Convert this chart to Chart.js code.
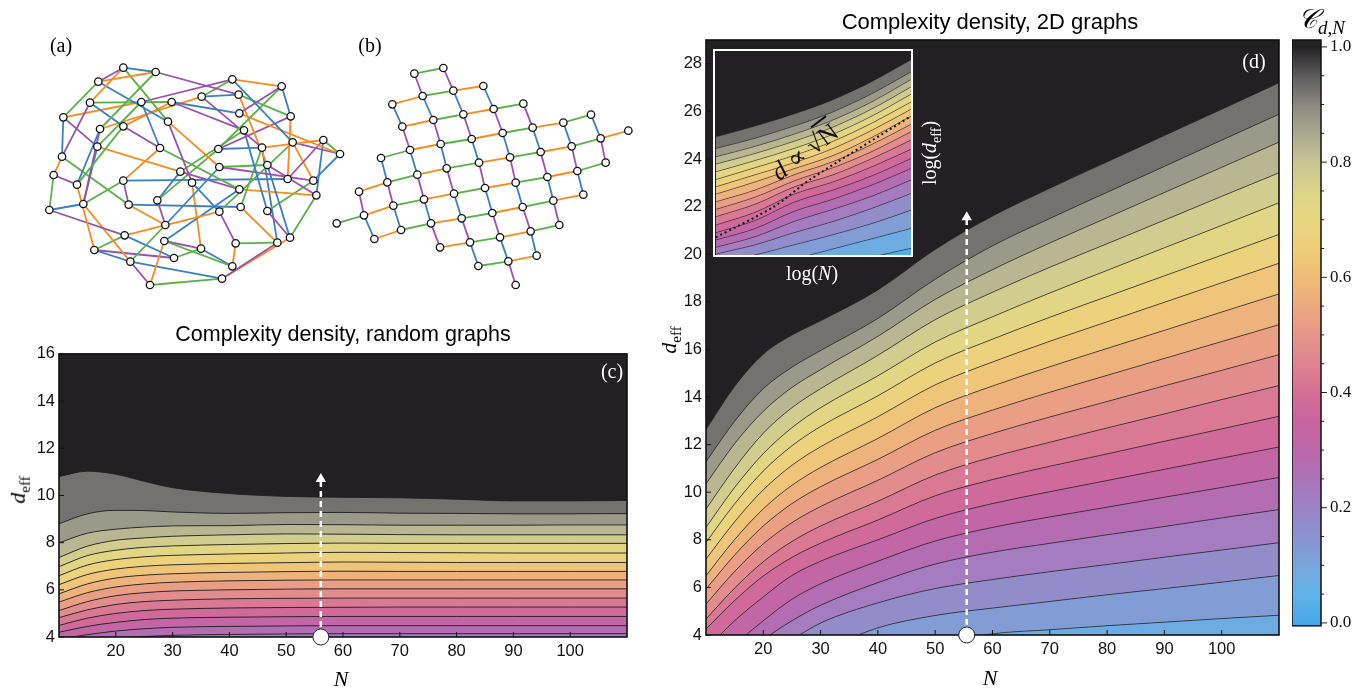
<!DOCTYPE html>
<html>
<head>
<meta charset="utf-8">
<script src="https://cdn.jsdelivr.net/npm/chart.js@4.4.1/dist/chart.umd.min.js"></script>
<style>
  body { margin: 0; width: 1370px; height: 690px; background: #fff; position: relative; overflow: hidden; }
  canvas { position: absolute; }
  .txt { position: absolute; white-space: nowrap; line-height: 1; }
  .sans { font-family: "Liberation Sans", Arial, sans-serif; }
  .serif { font-family: "Liberation Serif", "DejaVu Serif", serif; }
  .c { transform: translate(-50%, -50%); }
  .rot { transform: translate(-50%, -50%) rotate(-90deg); }
  #insetFrame { position: absolute; left: 713px; top: 49px; width: 196px; height: 204px; border: 2.5px solid #fff; }
</style>
</head>
<body>

<canvas id="netA" width="350" height="270" style="left:0;top:30px"></canvas>
<canvas id="netB" width="320" height="270" style="left:330px;top:30px"></canvas>
<canvas id="randChart" width="640" height="330" style="left:0;top:340px"></canvas>
<canvas id="latChart" width="640" height="650" style="left:650px;top:20px"></canvas>
<canvas id="insetChart" width="195" height="203" style="left:716px;top:52px"></canvas>
<div id="insetFrame"></div>
<canvas id="cbar" width="78" height="625" style="left:1292px;top:20px"></canvas>

<div class="txt serif c" style="left:61px;top:45px;font-size:20px">(a)</div>
<div class="txt serif c" style="left:370px;top:45px;font-size:20px">(b)</div>
<div class="txt sans c" style="left:343px;top:335px;font-size:21.5px">Complexity density, random graphs</div>
<div class="txt sans c" style="left:990px;top:22px;font-size:22px">Complexity density, 2D graphs</div>
<div class="txt serif c" style="left:612px;top:371px;font-size:20px;color:#fff">(c)</div>
<div class="txt serif c" style="left:1254px;top:61px;font-size:20px;color:#fff">(d)</div>
<div class="txt serif rot" style="left:20px;top:490px;font-size:22px"><i>d</i><sub style="font-size:15px">eff</sub></div>
<div class="txt serif c" style="left:341px;top:679px;font-size:22px"><i>N</i></div>
<div class="txt serif rot" style="left:671px;top:340px;font-size:22px"><i>d</i><sub style="font-size:15px">eff</sub></div>
<div class="txt serif c" style="left:990px;top:678px;font-size:22px"><i>N</i></div>
<div class="txt serif" style="left:1298px;top:6px;font-size:27px"><i>𝒞</i><sub style="font-size:19px"><i>d</i>,<i>N</i></sub></div>
<div class="txt serif c" style="left:812px;top:273px;font-size:20px;color:#fff">log(<i>N</i>)</div>
<div class="txt serif rot" style="left:931px;top:153px;font-size:20px;color:#fff">log(<i>d</i><sub style="font-size:14px">eff</sub>)</div>
<div class="txt serif" style="left:805px;top:152px;font-size:26px;color:#111;transform:translate(-50%,-50%) rotate(-37deg)"><i>d</i> ∝ √<span style="text-decoration:overline">N</span></div>

<script>
// ---------- data ----------
// panel (a): random graph, node layout and coloured edges (1-based node indices)
const nodesA = [
  [370,113],[467,126],[295,155],[697,148],[845,169],[270,218],[424,216],[515,216],[605,200],[716,194],
  [190,262],[718,250],[872,259],[504,275],[370,289],[300,297],[732,301],[970,330],[878,337],[1020,372],
  [292,350],[480,354],[655,357],[786,353],[186,380],[658,411],[802,405],[541,425],[161,435],[231,464],
  [370,452],[576,458],[863,447],[940,452],[718,478],[949,496],[148,540],[250,522],[386,524],[472,511],
  [658,545],[722,531],[802,543],[496,585],[374,616],[493,633],[870,623],[832,638],[707,640],[603,656],
  [283,660],[522,684],[391,695],[697,709],[666,746],[450,765]
];
const edgesA = [
  [1,2,'B'],[2,3,'O'],[1,3,'P'],[1,6,'O'],[1,14,'G'],[2,16,'G'],[2,10,'P'],[3,11,'G'],[3,14,'B'],
  [4,5,'O'],[4,9,'G'],[4,7,'P'],[4,19,'B'],[5,13,'B'],[5,12,'P'],[5,23,'G'],
  [6,8,'G'],[6,15,'B'],[6,25,'P'],[7,22,'B'],[7,11,'O'],[7,21,'G'],
  [8,12,'B'],[8,17,'P'],[8,15,'O'],[9,10,'B'],[9,16,'O'],[9,24,'P'],
  [10,13,'G'],[10,27,'O'],[11,25,'B'],[11,21,'P'],[12,20,'O'],[13,23,'P'],[13,33,'O'],
  [14,26,'O'],[14,32,'P'],[15,22,'P'],[15,30,'G'],[16,38,'P'],[16,30,'B'],
  [17,43,'B'],[17,28,'G'],[18,24,'O'],[18,20,'G'],[18,36,'B'],[18,33,'P'],
  [19,20,'P'],[19,34,'O'],[19,41,'G'],[20,34,'B'],[21,28,'O'],[21,38,'B'],
  [22,31,'O'],[22,35,'G'],[23,24,'B'],[24,42,'G'],[25,39,'G'],[25,29,'O'],[29,37,'G'],[29,30,'P'],
  [26,27,'G'],[26,34,'P'],[26,44,'B'],[27,47,'B'],[27,36,'P'],[36,47,'G'],[35,36,'O'],
  [31,33,'B'],[28,35,'P'],[30,51,'O'],[31,39,'P'],[31,38,'G'],
  [37,38,'B'],[37,45,'P'],[38,53,'O'],[39,42,'B'],[39,44,'O'],[40,44,'P'],[40,23,'G'],[40,28,'B'],
  [41,45,'O'],[41,49,'P'],[41,32,'B'],[42,48,'O'],[43,34,'G'],[43,47,'P'],[44,53,'G'],[45,52,'B'],[45,51,'G'],
  [46,56,'O'],[46,54,'G'],[46,35,'B'],[46,50,'P'],[48,49,'G'],[48,55,'P'],[48,24,'B'],[49,54,'O'],
  [50,52,'G'],[50,54,'B'],[50,32,'O'],[51,53,'B'],[51,52,'P'],[53,56,'P'],[53,55,'B'],[55,56,'G'],[55,47,'O']
];

// panel (b): square-lattice graph, [i, j, x, y] (lattice index, layout position)
const latticeB = [
  [0,0,253,131],[1,0,340,114],
  [-1,1,187,223],[0,1,278,198],[1,1,370,182],[2,1,460,168],
  [-1,2,217,290],[0,2,310,270],[1,2,400,253],[2,2,491,237],[3,2,580,221],
  [-2,3,153,384],[-1,3,240,360],[0,3,332,342],[1,3,425,327],[2,3,518,309],[3,3,608,293],[4,3,700,278],[5,3,783,254],
  [-3,4,87,485],[-2,4,172,457],[-1,4,262,434],[0,4,350,415],[1,4,447,398],[2,4,540,382],[3,4,632,366],[4,4,725,349],[5,4,812,325],[6,4,895,302],
  [-4,5,20,580],[-3,5,102,556],[-2,5,190,527],[-1,5,282,508],[0,5,372,491],[1,5,465,474],[2,5,557,458],[3,5,652,441],[4,5,742,423],[5,5,827,398],
  [-3,6,133,627],[-2,6,213,600],[-1,6,303,580],[0,6,395,565],[1,6,487,549],[2,6,578,531],[3,6,670,512],[4,6,760,494],
  [-1,7,330,652],[0,7,420,637],[1,7,510,622],[2,7,602,604],[3,7,688,585],
  [0,8,445,708],[1,8,535,694],[2,8,620,677],
  [1,9,557,765]
];

// contour plots: N sample points, contour levels and d_eff of each contour line
const nGrid = [10, 15, 20, 25, 30, 40, 50, 60, 70, 80, 90, 100, 110];
const nTicks = [20, 30, 40, 50, 60, 70, 80, 90, 100];

// panel (c): random graphs
const randLevels = [0.95, 0.90, 0.85, 0.80, 0.75, 0.70, 0.65, 0.60, 0.55, 0.50, 0.45, 0.40, 0.35, 0.30, 0.25];
const randLines = [
  [10.80, 11.03, 10.90, 10.60, 10.33, 10.08, 9.96, 9.92, 9.90, 9.84, 9.77, 9.77, 9.79],
  [8.80, 9.22, 9.37, 9.36, 9.30, 9.24, 9.27, 9.28, 9.25, 9.24, 9.22, 9.22, 9.23],
  [7.99, 8.40, 8.57, 8.66, 8.71, 8.72, 8.77, 8.76, 8.74, 8.74, 8.74, 8.75, 8.75],
  [7.37, 7.85, 8.10, 8.20, 8.27, 8.33, 8.37, 8.36, 8.34, 8.33, 8.33, 8.33, 8.33],
  [6.98, 7.45, 7.68, 7.80, 7.86, 7.92, 7.96, 7.98, 7.97, 7.97, 7.97, 7.97, 7.97],
  [6.60, 7.05, 7.28, 7.40, 7.46, 7.52, 7.56, 7.59, 7.58, 7.57, 7.56, 7.56, 7.56],
  [6.22, 6.65, 6.88, 7.00, 7.06, 7.12, 7.15, 7.18, 7.17, 7.16, 7.16, 7.16, 7.16],
  [5.83, 6.25, 6.50, 6.62, 6.68, 6.74, 6.77, 6.79, 6.78, 6.78, 6.78, 6.78, 6.78],
  [5.48, 5.88, 6.12, 6.25, 6.32, 6.38, 6.41, 6.42, 6.42, 6.42, 6.42, 6.42, 6.42],
  [5.12, 5.50, 5.75, 5.88, 5.95, 6.00, 6.03, 6.04, 6.04, 6.04, 6.04, 6.04, 6.04],
  [4.82, 5.15, 5.38, 5.50, 5.56, 5.62, 5.64, 5.65, 5.65, 5.65, 5.65, 5.65, 5.65],
  [4.49, 4.80, 5.00, 5.12, 5.18, 5.23, 5.25, 5.26, 5.27, 5.27, 5.27, 5.27, 5.27],
  [4.20, 4.45, 4.62, 4.74, 4.80, 4.84, 4.86, 4.87, 4.87, 4.87, 4.87, 4.87, 4.87],
  [3.92, 4.10, 4.25, 4.35, 4.41, 4.45, 4.47, 4.48, 4.48, 4.48, 4.48, 4.48, 4.48],
  [3.60, 3.80, 3.94, 4.02, 4.07, 4.11, 4.13, 4.14, 4.14, 4.14, 4.14, 4.14, 4.14]
];
const randTicksY = [4, 6, 8, 10, 12, 14, 16];

// panel (d): 2D graphs
const latLevels = [0.95, 0.90, 0.85, 0.80, 0.75, 0.70, 0.65, 0.60, 0.55, 0.50, 0.45, 0.40, 0.35, 0.30, 0.25, 0.20, 0.15, 0.10];
const latLines = [
  [12.63, 14.45, 15.80, 16.60, 17.20, 18.50, 20.20, 21.60, 22.77, 23.88, 24.99, 26.09, 27.20],
  [11.28, 12.98, 14.35, 15.25, 15.95, 17.30, 18.95, 20.35, 21.50, 22.60, 23.69, 24.79, 25.88],
  [10.35, 12.04, 13.40, 14.40, 15.15, 16.55, 18.10, 19.35, 20.47, 21.53, 22.59, 23.65, 24.71],
  [9.29, 11.01, 12.48, 13.55, 14.35, 15.75, 17.25, 18.40, 19.45, 20.44, 21.43, 22.43, 23.42],
  [8.52, 10.20, 11.62, 12.71, 13.55, 14.89, 16.31, 17.37, 18.37, 19.32, 20.27, 21.21, 22.16],
  [7.89, 9.51, 10.89, 11.95, 12.76, 14.05, 15.43, 16.43, 17.35, 18.22, 19.09, 19.96, 20.83],
  [7.19, 8.76, 10.10, 11.13, 11.91, 13.17, 14.51, 15.47, 16.34, 17.16, 17.98, 18.80, 19.62],
  [6.49, 8.01, 9.30, 10.29, 11.04, 12.26, 13.55, 14.46, 15.27, 16.04, 16.80, 17.57, 18.33],
  [5.93, 7.36, 8.58, 9.52, 10.23, 11.38, 12.60, 13.45, 14.20, 14.91, 15.62, 16.33, 17.04],
  [5.30, 6.67, 7.83, 8.72, 9.40, 10.50, 11.66, 12.47, 13.16, 13.81, 14.47, 15.12, 15.78],
  [4.67, 5.97, 7.08, 7.93, 8.58, 9.62, 10.72, 11.48, 12.10, 12.70, 13.29, 13.89, 14.48],
  [4.25, 5.45, 6.48, 7.26, 7.86, 8.83, 9.85, 10.53, 11.09, 11.61, 12.14, 12.66, 13.19],
  [3.40, 4.60, 5.60, 6.50, 7.10, 8.00, 8.90, 9.52, 10.02, 10.49, 10.96, 11.43, 11.90],
  [2.60, 3.60, 4.60, 5.50, 6.15, 7.10, 7.95, 8.52, 8.96, 9.37, 9.79, 10.20, 10.62],
  [1.80, 2.80, 3.80, 4.60, 5.25, 6.20, 6.98, 7.48, 7.85, 8.21, 8.56, 8.92, 9.27],
  [1.00, 2.00, 3.00, 3.80, 4.50, 5.35, 5.95, 6.33, 6.66, 6.96, 7.27, 7.57, 7.88],
  [0.50, 1.30, 2.00, 2.70, 3.30, 4.30, 4.82, 5.13, 5.41, 5.69, 5.95, 6.22, 6.50],
  [-0.50, 0.20, 0.90, 1.50, 2.00, 3.00, 3.60, 4.05, 4.22, 4.39, 4.54, 4.69, 4.83]
];
const latTicksY = [4, 6, 8, 10, 12, 14, 16, 18, 20, 22, 24, 26, 28];

// inset of (d): log-log view, x and y in relative units (0..100)
const insetX = [0, 20, 40, 60, 80, 100];
const insetLevels = [0.95, 0.90, 0.85, 0.80, 0.75, 0.70, 0.65, 0.60, 0.55, 0.50, 0.45, 0.40, 0.35, 0.30, 0.25, 0.20, 0.15, 0.10, 0.05];
const insetLines = [
  [58.2, 63.5, 69.5, 76.5, 85.5, 96.2],
  [52.5, 57.5, 63.5, 70.5, 79.5, 90.2],
  [48.4, 53.5, 59.5, 66.5, 75.5, 86.4],
  [44.8, 50.0, 56.0, 63.0, 72.0, 82.8],
  [41.0, 46.5, 52.5, 59.5, 68.5, 79.2],
  [37.2, 43.0, 49.0, 56.0, 65.0, 75.4],
  [33.6, 39.5, 45.5, 52.5, 61.5, 71.8],
  [30.0, 36.0, 42.5, 49.0, 58.0, 68.4],
  [26.2, 32.0, 39.5, 46.0, 54.5, 64.4],
  [22.5, 28.5, 36.5, 43.0, 51.0, 60.7],
  [18.9, 25.0, 33.5, 39.5, 47.5, 56.6],
  [14.8, 21.0, 30.0, 36.0, 43.5, 52.1],
  [11.0, 17.0, 26.0, 32.0, 39.0, 47.5],
  [7.4, 13.0, 21.5, 27.5, 34.5, 42.6],
  [3.8, 9.0, 16.5, 22.5, 29.0, 36.9],
  [0.5, 5.0, 11.0, 16.5, 23.0, 30.3],
  [-4.0, 0.0, 5.0, 10.0, 15.5, 22.1],
  [-9.0, -6.0, -2.0, 3.0, 8.0, 13.1],
  [-14.0, -12.0, -9.0, -5.0, -1.0, 3.3]
];
const sqrtFitX = [0, 30, 48, 100];
const sqrtFitY = [8.7, 24.0, 37.0, 68.4];

// dashed arrows (N position, top of arrow in d_eff)
const arrowN = [56.1, 55.5];
const arrowTop = [10.95, 21.8];

// colour bar
const cbarTicks = [0, 0.2, 0.4, 0.6, 0.8, 1.0];
const cbarMinor = [0.05, 0.1, 0.15, 0.25, 0.3, 0.35, 0.45, 0.5, 0.55, 0.65, 0.7, 0.75, 0.85, 0.9, 0.95];

// ---------- styling ----------
Chart.defaults.font.family = '"Liberation Sans", Arial, sans-serif';
Chart.defaults.color = '#111';

const cmapStops = [
  [0.00, '#48a9e8'], [0.05, '#5fb3e8'], [0.10, '#78a5db'], [0.15, '#8b93cf'], [0.20, '#9b84c5'],
  [0.25, '#ac73b8'], [0.30, '#bc67ab'], [0.35, '#c964a0'], [0.40, '#d46f96'], [0.45, '#df8290'],
  [0.50, '#e7958a'], [0.55, '#eca97f'], [0.60, '#efbd78'], [0.65, '#efcd7a'], [0.70, '#e8d780'],
  [0.75, '#dbd489'], [0.80, '#c8c495'], [0.85, '#aba88f'], [0.90, '#8b8982'], [0.95, '#5c5b5a'],
  [1.00, '#232124']
];
const edgeColors = { B: '#3b7fc2', O: '#f68b1f', G: '#5bb04a', P: '#9a52ac' };

function hexRgb(c) {
  return [1, 3, 5].map(i => parseInt(c.slice(i, i + 2), 16));
}
function cmap(v) {
  for (let i = 1; i < cmapStops.length; i++) {
    const [v0, c0] = cmapStops[i - 1];
    const [v1, c1] = cmapStops[i];
    if (v <= v1) {
      const t = (v - v0) / (v1 - v0);
      const a = hexRgb(c0), b = hexRgb(c1);
      return 'rgb(' + a.map((x, k) => Math.round(x + (b[k] - x) * t)).join(',') + ')';
    }
  }
  return cmapStops[cmapStops.length - 1][1];
}

const baseOpts = {
  responsive: false,
  animation: false,
  devicePixelRatio: 1,
  events: [],
};

// draws black background, frame and inward tick marks
const framePlugin = {
  id: 'frame',
  beforeDraw(chart, args, opts) {
    if (!opts.bg) return;
    const a = chart.chartArea, ctx = chart.ctx;
    ctx.save();
    ctx.fillStyle = opts.bg;
    ctx.fillRect(a.left, a.top, a.right - a.left, a.bottom - a.top);
    ctx.restore();
  },
  beforeDatasetDraw(chart, args, opts) {
    if (chart.data.datasets[args.index].frameBefore) drawFrame(chart, opts);
  }
};

function drawFrame(chart, opts) {
  const a = chart.chartArea, ctx = chart.ctx;
  ctx.save();
  ctx.strokeStyle = opts.color || '#111';
  if (opts.ticks) {
    ctx.beginPath();
    const sx = chart.scales.x, sy = chart.scales.y;
    sx.ticks.forEach(t => {
      const px = sx.getPixelForValue(t.value);
      ctx.moveTo(px, a.bottom); ctx.lineTo(px, a.bottom - 5);
    });
    sy.ticks.forEach(t => {
      const py = sy.getPixelForValue(t.value);
      ctx.moveTo(a.left, py); ctx.lineTo(a.left + 5, py);
    });
    ctx.lineWidth = 1;
    ctx.stroke();
  }
  ctx.lineWidth = opts.width || 1.5;
  ctx.strokeRect(a.left, a.top, a.right - a.left, a.bottom - a.top);
  ctx.restore();
}

// ---------- network panels ----------
function networkChart(id, nodes, edges, xMax, yMax) {
  const datasets = edges.map(e => ({
    data: [{ x: nodes[e[0]][0], y: nodes[e[0]][1] }, { x: nodes[e[1]][0], y: nodes[e[1]][1] }],
    showLine: true,
    borderColor: edgeColors[e[2]],
    borderWidth: 1.8,
    pointRadius: 0,
    order: 1,
    clip: false
  }));
  datasets.push({
    data: nodes.map(p => ({ x: p[0], y: p[1] })),
    pointRadius: 3.7,
    pointBackgroundColor: '#fff',
    pointBorderColor: '#111',
    pointBorderWidth: 1.3,
    order: 0,
    clip: false
  });
  new Chart(document.getElementById(id), {
    type: 'scatter',
    data: { datasets },
    options: {
      ...baseOpts,
      layout: { padding: 0, autoPadding: false },
      plugins: { legend: { display: false }, tooltip: { enabled: false } },
      scales: {
        x: { display: false, min: 0, max: xMax },
        y: { display: false, min: 0, max: yMax, reverse: true }
      }
    }
  });
}

const edgesAlist = edgesA.map(e => [e[0] - 1, e[1] - 1, e[2]]);
networkChart('netA', nodesA, edgesAlist, 1050, 810);

const nodesBlist = latticeB.map(p => [p[2], p[3]]);
const edgesBlist = [];
latticeB.forEach((p, a) => {
  latticeB.forEach((q, b) => {
    if (q[0] === p[0] + 1 && q[1] === p[1]) {
      edgesBlist.push([a, b, Math.abs(p[0]) % 2 === 0 ? 'G' : 'O']);
    }
    if (q[0] === p[0] && q[1] === p[1] + 1) {
      edgesBlist.push([a, b, Math.abs(p[1]) % 2 === 1 ? 'B' : 'P']);
    }
  });
});
networkChart('netB', nodesBlist, edgesBlist, 960, 810);

// ---------- contour panels ----------
function contourDatasets(xs, lines, levels, strokeW, strokeCol) {
  const ds = [];
  const last = lines.length - 1;
  for (let k = last; k >= 0; k--) {
    const lower = k === last ? levels[k] - 0.05 : levels[k + 1];
    ds.push({
      data: xs.map((x, i) => ({ x, y: lines[k][i] })),
      borderColor: strokeCol,
      borderWidth: strokeW,
      backgroundColor: cmap((lower + levels[k]) / 2),
      fill: k === last ? 'start' : '-1',
      pointRadius: 0,
      cubicInterpolationMode: 'monotone',
      order: 10
    });
  }
  return ds;
}

function markerDatasets(n, top, bottom) {
  return [
    {
      data: [{ x: n, y: bottom }, { x: n, y: top - 0.3 }],
      borderColor: '#fff', borderWidth: 2.5, borderDash: [6, 4],
      pointRadius: 0, fill: false, order: -2, frameBefore: true
    },
    {
      data: [{ x: n, y: top - 0.25 }], showLine: false, pointStyle: 'triangle',
      pointRadius: 6, pointBackgroundColor: '#fff', pointBorderColor: '#fff', pointBorderWidth: 0,
      fill: false, order: -3
    },
    {
      data: [{ x: n, y: bottom }], showLine: false, pointRadius: 8,
      pointBackgroundColor: '#fff', pointBorderColor: '#222', pointBorderWidth: 1,
      fill: false, order: -4, clip: false
    }
  ];
}

function contourChart(id, lines, levels, ticksY, yMax, arrowIdx, pad, yW, xH, strokeW) {
  const datasets = contourDatasets(nGrid, lines, levels, strokeW, 'rgba(30,28,30,0.85)')
    .concat(markerDatasets(arrowN[arrowIdx], arrowTop[arrowIdx], 4));
  new Chart(document.getElementById(id), {
    type: 'line',
    data: { datasets },
    options: {
      ...baseOpts,
      layout: { padding: pad, autoPadding: false },
      plugins: {
        legend: { display: false }, tooltip: { enabled: false },
        filler: { propagate: false },
        frame: { bg: '#222022', ticks: true, width: 1.6, color: '#111' }
      },
      scales: {
        x: {
          type: 'linear', min: 10, max: 110,
          afterBuildTicks: s => { s.ticks = nTicks.map(v => ({ value: v })); },
          afterFit: s => { s.height = xH; },
          grid: { display: false, drawTicks: false }, border: { display: false },
          ticks: { font: { size: 16.5 }, color: '#111', padding: 5, maxRotation: 0, autoSkip: false }
        },
        y: {
          type: 'linear', min: 4, max: yMax,
          afterBuildTicks: s => { s.ticks = ticksY.map(v => ({ value: v })); },
          afterFit: s => { s.width = yW; },
          grid: { display: false, drawTicks: false }, border: { display: false },
          ticks: { font: { size: 16.5 }, color: '#111', padding: 4, autoSkip: false }
        }
      }
    },
    plugins: [framePlugin]
  });
}

contourChart('randChart', randLines, randLevels, randTicksY, 16, 0,
  { top: 12, right: 13, left: 0, bottom: 0 }, 59, 33, 1);
contourChart('latChart', latLines, latLevels, latTicksY, 29, 1,
  { top: 20, right: 11, left: 0, bottom: 0 }, 56, 35, 0.8);

// inset
(function () {
  const datasets = contourDatasets(insetX, insetLines, insetLevels, 0.7, 'rgba(30,28,30,0.7)');
  datasets.push({
    data: sqrtFitX.map((x, i) => ({ x, y: sqrtFitY[i] })),
    borderColor: '#111', borderWidth: 2, borderDash: [2, 3], pointRadius: 0,
    fill: false, order: -1, tension: 0.3
  });
  new Chart(document.getElementById('insetChart'), {
    type: 'line',
    data: { datasets },
    options: {
      ...baseOpts,
      layout: { padding: 0, autoPadding: false },
      plugins: {
        legend: { display: false }, tooltip: { enabled: false },
        frame: { bg: '#222022' }
      },
      scales: {
        x: { type: 'linear', display: false, min: 0, max: 100 },
        y: { type: 'linear', display: false, min: 0, max: 100 }
      }
    },
    plugins: [framePlugin]
  });
})();

// colour bar
const cbarPlugin = {
  id: 'cbarTicks',
  afterDraw(chart) {
    const a = chart.chartArea, ctx = chart.ctx, sy = chart.scales.y;
    ctx.save();
    ctx.strokeStyle = '#222';
    ctx.lineWidth = 1;
    ctx.beginPath();
    cbarTicks.forEach(v => { const py = sy.getPixelForValue(v); ctx.moveTo(a.right, py); ctx.lineTo(a.right + 6, py); });
    cbarMinor.forEach(v => { const py = sy.getPixelForValue(v); ctx.moveTo(a.right, py); ctx.lineTo(a.right + 3, py); });
    ctx.stroke();
    ctx.lineWidth = 1.5;
    ctx.strokeStyle = '#111';
    ctx.strokeRect(a.left, a.top, a.right - a.left, a.bottom - a.top);
    ctx.restore();
  }
};
new Chart(document.getElementById('cbar'), {
  type: 'bar',
  data: {
    labels: [''],
    datasets: [{
      data: [[-0.005, 1.012]],
      barPercentage: 1, categoryPercentage: 1, borderWidth: 0,
      backgroundColor: ctx => {
        const sy = ctx.chart.scales.y;
        if (!ctx.chart.chartArea || !sy) return '#888';
        const g = ctx.chart.ctx.createLinearGradient(0, sy.getPixelForValue(0), 0, sy.getPixelForValue(1));
        cmapStops.forEach(s => g.addColorStop(s[0], s[1]));
        return g;
      }
    }]
  },
  options: {
    ...baseOpts,
    layout: { padding: { top: 20, bottom: 10, left: 0, right: 0 }, autoPadding: false },
    plugins: { legend: { display: false }, tooltip: { enabled: false } },
    scales: {
      x: { display: false },
      y: {
        position: 'right', min: -0.005, max: 1.012,
        afterBuildTicks: s => { s.ticks = cbarTicks.map(v => ({ value: v })); },
        afterFit: s => { s.width = 49; },
        grid: { display: false, drawTicks: false }, border: { display: false },
        ticks: {
          font: { family: '"Liberation Serif", serif', size: 17 }, color: '#111', padding: 9,
          callback: v => v.toFixed(1)
        }
      }
    }
  },
  plugins: [cbarPlugin]
});
</script>
</body>
</html>
